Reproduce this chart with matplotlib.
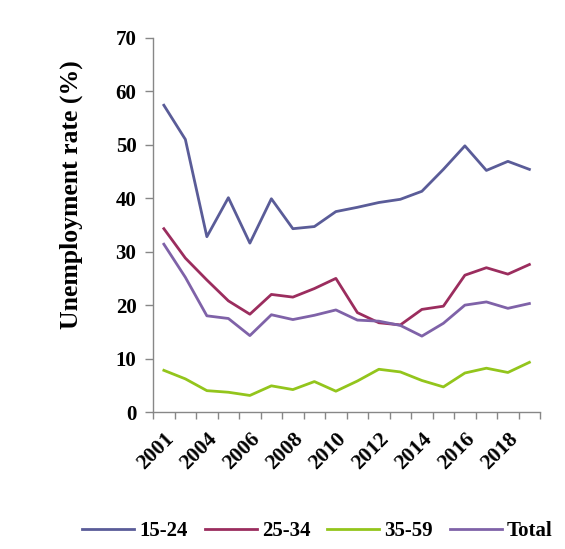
import numpy as np
import matplotlib
matplotlib.use("Agg")
import matplotlib.pyplot as plt
from matplotlib.ticker import FixedLocator

plt.rcParams["font.family"] = ["Liberation Serif", "DejaVu Serif"]
plt.rcParams["font.weight"] = "bold"

years = ["2001", "2003", "2004", "2005", "2006", "2007", "2008", "2009", "2010",
         "2011", "2012", "2013", "2014", "2015", "2016", "2017", "2018", "2019"]
age_15_24 = [57.4, 51.0, 32.8, 40.1, 31.6, 39.9, 34.3, 34.7, 37.5,
             38.3, 39.2, 39.8, 41.3, 45.4, 49.8, 45.2, 46.9, 45.4]
age_25_34 = [34.3, 28.8, 24.7, 20.8, 18.3, 22.0, 21.5, 23.1, 25.0,
             18.6, 16.7, 16.3, 19.2, 19.8, 25.6, 27.0, 25.8, 27.6]
age_35_59 = [7.8, 6.2, 4.0, 3.7, 3.1, 4.9, 4.2, 5.7, 3.9,
             5.8, 8.0, 7.5, 5.9, 4.7, 7.3, 8.2, 7.4, 9.3]
total = [31.4, 25.2, 18.0, 17.5, 14.3, 18.2, 17.3, 18.1, 19.1,
         17.2, 17.0, 16.2, 14.2, 16.6, 20.0, 20.6, 19.4, 20.3]

series = [("15-24", age_15_24, "#5A5C98"),
          ("25-34", age_25_34, "#9B2D5E"),
          ("35-59", age_35_59, "#93C51C"),
          ("Total", total, "#7F62A8")]

fig = plt.figure(figsize=(5.65, 5.49), dpi=100)
ax = fig.add_axes([0.271, 0.2495, 0.685, 0.6815])

x = np.arange(len(years))
for name, vals, col in series:
    ax.plot(x, vals, color=col, lw=2.0, label=name)

ax.set_xlim(-0.5, len(years) - 0.5)
ax.set_ylim(0, 70)
ax.set_yticks(range(0, 71, 10))

# tick marks sit on category boundaries, every other category gets a label
ax.set_xticks(x[::2])
ax.set_xticklabels(years[::2], rotation=45, ha="right", rotation_mode="anchor",
                   fontsize=15.5, fontweight="bold")
ax.xaxis.set_minor_locator(FixedLocator(np.arange(-0.5, len(years), 1)))
ax.tick_params(axis="x", which="major", length=0, pad=12)
ax.tick_params(axis="x", which="minor", length=5, color="#878787", width=1)
ax.tick_params(axis="y", length=6, color="#878787", width=1, labelsize=15, pad=6)
for lab in ax.get_yticklabels():
    lab.set_fontweight("bold")

for s in ["top", "right"]:
    ax.spines[s].set_visible(False)
for s in ["left", "bottom"]:
    ax.spines[s].set_color("#878787")
    ax.spines[s].set_linewidth(1)

ax.set_ylabel("Unemployment rate (%)", fontsize=18.5, fontweight="bold")
ax.yaxis.set_label_coords(-0.18, 0.58)

fig.legend(loc="lower center", bbox_to_anchor=(0.562, -0.02), ncol=4, frameon=False,
           prop={"size": 15, "weight": "bold"}, handlelength=2.5, columnspacing=0.8,
           handletextpad=0.25)

fig.savefig("out.png", dpi=100)
